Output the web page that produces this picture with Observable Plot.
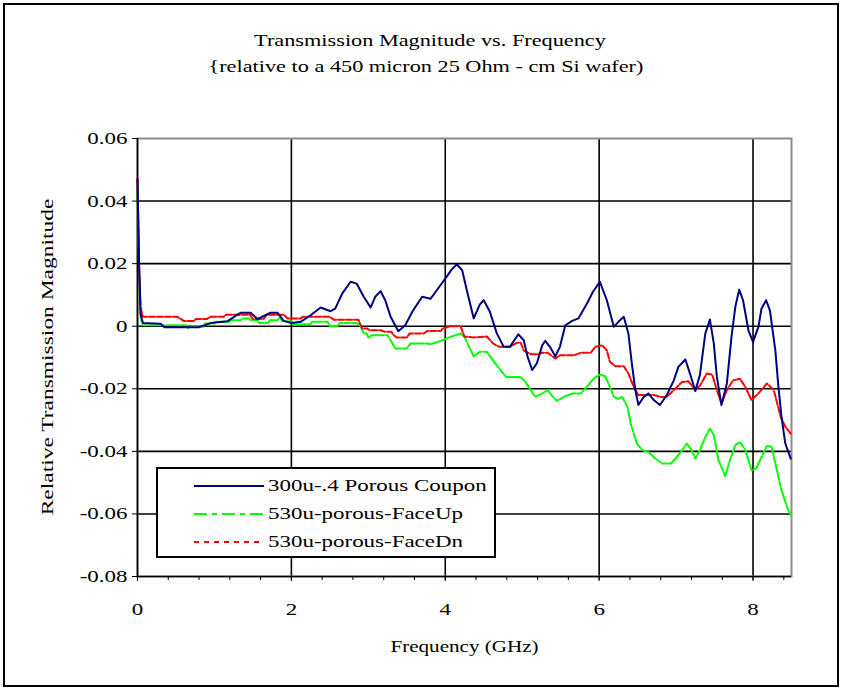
<!DOCTYPE html>
<html><head><meta charset="utf-8">
<script src="https://cdn.jsdelivr.net/npm/d3@7"></script>
<script src="https://cdn.jsdelivr.net/npm/@observablehq/plot@0.6"></script>
<style>
body{margin:0;background:#fff;}
#wrap{position:relative;width:842px;height:690px;background:#fff;font-family:"Liberation Serif","Times New Roman",serif;overflow:hidden;color:#000;}
#border{position:absolute;left:3px;top:3px;width:836px;height:684px;box-sizing:border-box;border:2px solid #000;pointer-events:none;}
#chart{position:absolute;left:0;top:0;}
.ttl{position:absolute;width:842px;text-align:center;font-size:17px;line-height:20px;transform:scaleX(1.31);transform-origin:center;white-space:nowrap;}
#ylab{position:absolute;left:48px;top:357px;font-size:17px;line-height:20px;white-space:nowrap;transform:translate(-50%,-50%) rotate(-90deg) scaleX(1.38);}
#legend{position:absolute;left:156px;top:467px;width:340px;height:91px;box-sizing:border-box;border:2px solid #000;background:#fff;}
.row{position:absolute;left:0;height:20px;}
.row svg{position:absolute;left:35px;top:7px;}
.row span{position:absolute;left:110px;top:0;font-size:17px;line-height:20px;white-space:nowrap;transform:scaleX(1.35);transform-origin:left center;}
</style>
</head><body>
<div id="wrap">
  <div id="chart"></div>
  <div class="ttl" id="t1" style="left:9px;top:31px;"></div>
  <div class="ttl" id="t2" style="left:5px;top:57px;"></div>
  <div id="ylab"></div>
  <div id="legend"></div>
  <div id="border"></div>
</div>
<script>
const titleText = "Transmission Magnitude vs. Frequency";
const subtitleText = "{relative to a 450 micron 25 Ohm - cm Si wafer)";
const xLabel = "Frequency (GHz)";
const yLabel = "Relative Transmission Magnitude";
const seriesNames = ["300u-.4 Porous Coupon", "530u-porous-FaceUp", "530u-porous-FaceDn"];
const seriesColors = ["#000080", "#00ff00", "#ff0000"];

const xMajorTicks = [0, 2, 4, 6, 8];
const xMinorTicks = [0,0.4,0.8,1.2,1.6,2,2.4,2.8,3.2,3.6,4,4.4,4.8,5.2,5.6,6,6.4,6.8,7.2,7.6,8,8.4];
const yTicks = [-0.08, -0.06, -0.04, -0.02, 0, 0.02, 0.04, 0.06];
const xGrid = [2, 4, 6, 8];
const yGrid = [-0.06, -0.04, -0.02, 0, 0.02, 0.04];

// 300u-.4 Porous Coupon
const freqBlue = [0,0.02,0.04,0.07,0.3,0.35,0.8,0.95,1.17,1.34,1.47,1.56,1.73,1.82,1.9,2.0,2.12,2.25,2.38,2.51,2.57,2.66,2.77,2.85,2.94,3.03,3.09,3.16,3.22,3.29,3.39,3.48,3.58,3.7,3.81,3.89,4.0,4.08,4.15,4.22,4.28,4.37,4.45,4.5,4.58,4.67,4.76,4.84,4.91,4.95,5.02,5.07,5.13,5.19,5.26,5.3,5.36,5.43,5.49,5.56,5.65,5.73,5.84,5.92,6.01,6.1,6.19,6.25,6.32,6.38,6.42,6.47,6.51,6.58,6.64,6.71,6.79,6.88,6.97,7.03,7.12,7.18,7.25,7.31,7.38,7.44,7.49,7.53,7.59,7.66,7.72,7.77,7.82,7.87,7.94,8.0,8.07,8.11,8.17,8.22,8.29,8.33,8.37,8.42,8.49];
const valBlue = [0.047,0.02,0.004,0.001,0.0008,-0.0003,-0.0003,0.001,0.0016,0.0043,0.0043,0.0023,0.0043,0.0043,0.0017,0.001,0.0014,0.0035,0.006,0.0048,0.0056,0.0104,0.0142,0.0136,0.0094,0.006,0.0094,0.0112,0.0083,0.003,-0.0016,0.0003,0.005,0.0094,0.0088,0.0115,0.0152,0.018,0.0198,0.0179,0.0115,0.0025,0.007,0.0083,0.0046,-0.0023,-0.0066,-0.0066,-0.004,-0.0026,-0.0045,-0.0098,-0.014,-0.0119,-0.0061,-0.0047,-0.0066,-0.0096,-0.0066,0.0003,0.0017,0.0025,0.0072,0.011,0.0142,0.0083,-0.0002,0.0014,0.003,-0.0023,-0.0109,-0.0204,-0.0252,-0.0226,-0.0215,-0.0236,-0.0252,-0.022,-0.0173,-0.013,-0.0106,-0.0151,-0.0207,-0.0155,-0.0023,0.0021,-0.0055,-0.0162,-0.0252,-0.0183,-0.0034,0.0062,0.0117,0.0083,-0.0013,-0.005,-0.0002,0.0056,0.0083,0.005,-0.0077,-0.0194,-0.029,-0.0375,-0.0423];

// 530u-porous-FaceUp
const freqGreen = [0,0.02,0.04,0.07,0.64,0.66,0.68,0.86,0.88,1.0,1.02,1.2,1.22,1.34,1.36,1.45,1.47,1.56,1.58,1.7,1.72,1.82,1.85,1.88,2.0,2.02,2.25,2.27,2.47,2.5,2.6,2.63,2.85,2.9,2.94,2.98,3.0,3.05,3.25,3.29,3.35,3.5,3.55,3.77,3.81,3.94,4.07,4.2,4.25,4.31,4.37,4.45,4.54,4.62,4.7,4.79,4.98,5.04,5.11,5.17,5.26,5.33,5.39,5.45,5.54,5.65,5.76,5.84,5.93,6.01,6.08,6.14,6.19,6.25,6.3,6.37,6.41,6.49,6.56,6.64,6.73,6.82,6.93,7.01,7.08,7.14,7.2,7.25,7.31,7.38,7.44,7.49,7.55,7.64,7.7,7.77,7.83,7.9,7.98,8.04,8.11,8.18,8.24,8.31,8.37,8.44,8.49];
const valGreen = [0.046,0.018,0.003,0.0003,0.0003,-0.0006,-0.0002,-0.0002,0.0009,0.0009,0.0014,0.0014,0.0019,0.0019,0.0025,0.0025,0.0019,0.0019,0.001,0.001,0.0019,0.0019,0.003,0.0016,0.0016,0.0006,0.0006,0.0014,0.0014,0.0,0.0,0.001,0.001,0.0,-0.0023,-0.0023,-0.0036,-0.0029,-0.0029,-0.0045,-0.0071,-0.0071,-0.0055,-0.0055,-0.0058,-0.0047,-0.0034,-0.0023,-0.0034,-0.0066,-0.0096,-0.0082,-0.0082,-0.0109,-0.0135,-0.0162,-0.0162,-0.0178,-0.0204,-0.0226,-0.0215,-0.0204,-0.0223,-0.0239,-0.0226,-0.0215,-0.0215,-0.0194,-0.0167,-0.0154,-0.016,-0.0194,-0.0226,-0.0232,-0.0226,-0.0258,-0.0311,-0.0375,-0.0396,-0.0402,-0.0423,-0.0439,-0.0439,-0.0418,-0.0396,-0.0375,-0.0396,-0.0423,-0.0396,-0.0354,-0.0327,-0.0348,-0.0428,-0.0479,-0.0428,-0.038,-0.037,-0.0396,-0.046,-0.0455,-0.0418,-0.0383,-0.0385,-0.046,-0.0524,-0.0577,-0.0604];

// 530u-porous-FaceDn
const freqRed = [0,0.02,0.04,0.07,0.52,0.6,0.73,0.76,0.9,0.95,1.12,1.15,1.46,1.5,1.64,1.68,1.9,1.95,2.12,2.15,2.5,2.55,2.87,2.92,2.98,3.02,3.16,3.22,3.3,3.33,3.37,3.5,3.54,3.72,3.77,3.94,3.97,4.06,4.2,4.25,4.3,4.37,4.54,4.62,4.7,4.84,4.93,4.98,5.02,5.11,5.2,5.26,5.33,5.43,5.49,5.67,5.76,5.89,5.95,6.04,6.1,6.14,6.21,6.32,6.38,6.45,6.51,6.71,6.8,6.88,6.97,7.08,7.16,7.25,7.31,7.4,7.47,7.53,7.59,7.66,7.74,7.83,7.9,7.98,8.07,8.18,8.27,8.36,8.42,8.49];
const valRed = [0.047,0.02,0.006,0.003,0.003,0.0017,0.0017,0.0023,0.0023,0.003,0.003,0.0037,0.0037,0.0023,0.0023,0.0037,0.0037,0.0025,0.0025,0.003,0.003,0.0021,0.0021,-0.0007,-0.0007,-0.0013,-0.0013,-0.0018,-0.0018,-0.0029,-0.0036,-0.0036,-0.0023,-0.0023,-0.0015,-0.0015,-0.0007,0.0,0.0,-0.0034,-0.0034,-0.0036,-0.0033,-0.0055,-0.0066,-0.0066,-0.0053,-0.0053,-0.0077,-0.009,-0.009,-0.0085,-0.0085,-0.0103,-0.0093,-0.0093,-0.0085,-0.0085,-0.0066,-0.0061,-0.0077,-0.0114,-0.0128,-0.0128,-0.0151,-0.0194,-0.022,-0.022,-0.0226,-0.0226,-0.0204,-0.0178,-0.0176,-0.0204,-0.019,-0.0151,-0.0155,-0.0204,-0.0247,-0.0204,-0.0173,-0.0168,-0.0194,-0.0236,-0.0215,-0.0183,-0.0204,-0.029,-0.0322,-0.0343];

const toRows = (fs, vs) => fs.map((f, i) => ({f, v: vs[i]}));
const blue = toRows(freqBlue, valBlue);
const green = toRows(freqGreen, valGreen);
const red = toRows(freqRed, valRed);

const fmtY = d => d === 0 ? "0" : d.toFixed(2);

const chart = Plot.plot({
  width: 842,
  height: 690,
  marginLeft: 137,
  marginRight: 51,
  marginTop: 138,
  marginBottom: 114,
  x: {domain: [0, 8.5]},
  y: {domain: [-0.08, 0.06]},
  style: {fontFamily: '"Liberation Serif", "Times New Roman", serif', fontSize: "17px", background: "transparent", color: "#000"},
  marks: [
    Plot.ruleX(xGrid, {stroke: "#000", strokeWidth: 1.6}),
    Plot.ruleY(yGrid, {stroke: "#000", strokeWidth: 1.6}),
    Plot.frame({stroke: "#8c8c8c", strokeWidth: 2}),
    Plot.ruleX([0], {stroke: "#000", strokeWidth: 1.6}),
    Plot.ruleY([-0.08], {stroke: "#000", strokeWidth: 1.6}),
    Plot.line(green, {x: "f", y: "v", stroke: seriesColors[1], strokeWidth: 2, strokeDasharray: "16,2,5,2"}),
    Plot.line(red, {x: "f", y: "v", stroke: seriesColors[2], strokeWidth: 2, strokeDasharray: "6,2"}),
    Plot.line(blue, {x: "f", y: "v", stroke: seriesColors[0], strokeWidth: 2}),
    Plot.axisY({ticks: yTicks, tickSize: 5, tickPadding: 5, tickFormat: fmtY, label: null, fontSize: 17}),
    Plot.axisX({ticks: xMinorTicks, tickSize: 4, tickFormat: () => "", label: null}),
    Plot.axisX({ticks: xMajorTicks, tickSize: 5, tickPadding: 21, tickFormat: d => String(d), label: null, fontSize: 17}),
    Plot.text([xLabel], {text: d => d, frameAnchor: "bottom", dy: 75, fontSize: 17})
  ]
});
document.getElementById("chart").appendChild(chart);
chart.querySelectorAll("text").forEach(t => {
  const L = t.getComputedTextLength();
  if (L > 0) {
    const s = t.textContent === xLabel ? 1.24 : 1.35;
    t.setAttribute("textLength", (L * s).toFixed(1));
    t.setAttribute("lengthAdjust", "spacingAndGlyphs");
  }
});

document.getElementById("t1").textContent = titleText;
document.getElementById("t2").textContent = subtitleText;
document.getElementById("ylab").textContent = yLabel;

const legend = document.getElementById("legend");
const dashes = ["none", "13,5,5,5", "5,5"];
const rowTops = [7, 35, 63];
seriesNames.forEach((name, i) => {
  const row = document.createElement("div");
  row.className = "row";
  row.style.top = rowTops[i] + "px";
  row.innerHTML = `<svg width="72" height="6"><line x1="1" y1="3" x2="71" y2="3" stroke="${seriesColors[i]}" stroke-width="2" ${dashes[i] !== "none" ? `stroke-dasharray="${dashes[i]}"` : ""}/></svg><span></span>`;
  row.querySelector("span").textContent = name;
  legend.appendChild(row);
});
</script>
</body></html>
